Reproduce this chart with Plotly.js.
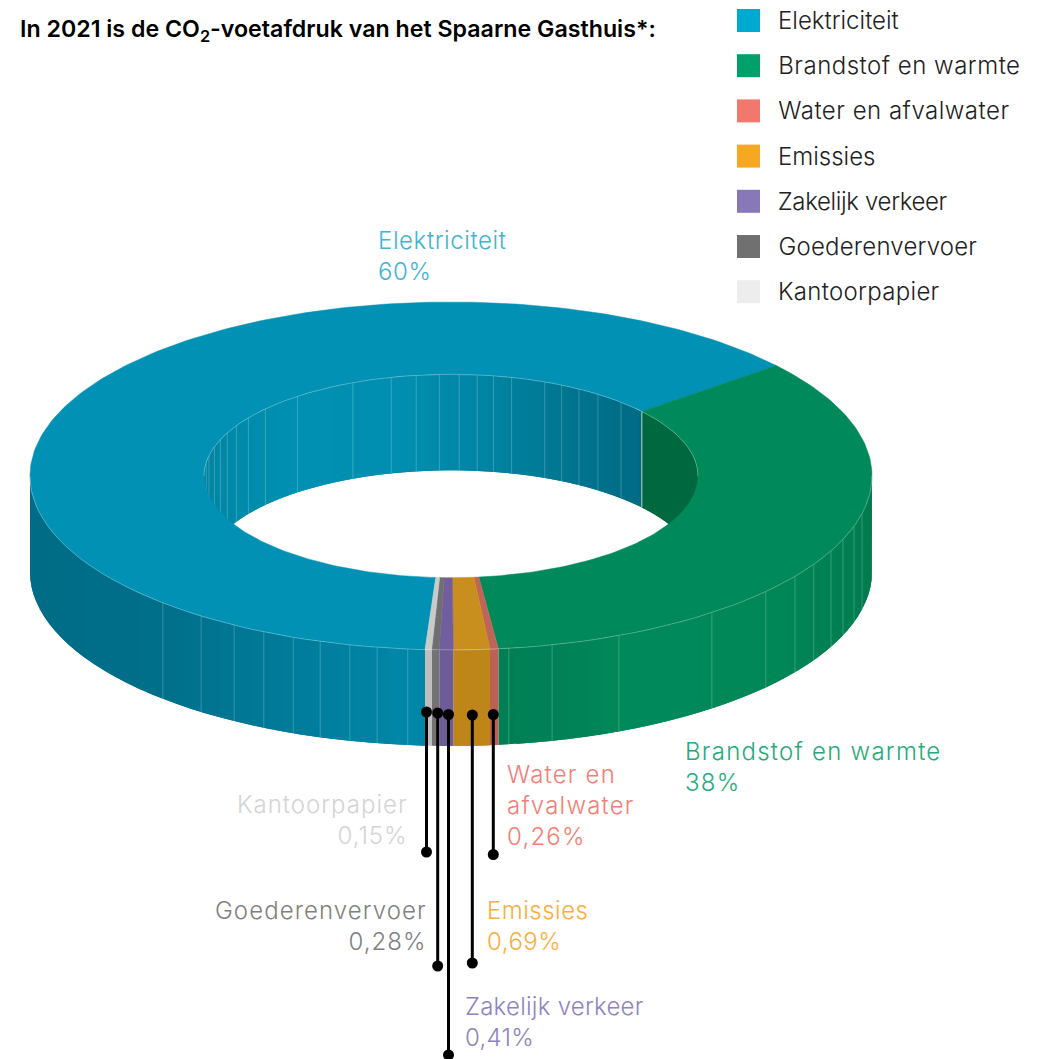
<!DOCTYPE html>
<html><head><meta charset="utf-8">
<script src="https://cdn.plot.ly/plotly-3.0.1.min.js"></script>
<style>html,body{margin:0;padding:0;background:#fff}#chart{width:1042px;height:1059px}</style>
</head><body><div id="chart"></div>
<script>
// ---- data ----
const categories = ['Elektriciteit','Brandstof en warmte','Water en afvalwater','Emissies','Zakelijk verkeer','Goederenvervoer','Kantoorpapier'];
const printedPercents = ['60%','38%','0,26%','0,69%','0,41%','0,28%','0,15%'];
// share of the ring that each slice occupies as actually drawn (thin slices are enlarged in the original)
const drawnShares = [63.07,34.15,0.32,1.39,0.53,0.29,0.25];
const swatchColors = ['#00A9D0','#00A06A','#F2786E','#F7A823','#8878B8','#707070','#EDEDED'];
const topColors = ['#0091B4','#00895A','#BF6558','#C98F1E','#725E9E','#6F6F6F','#C9CACA'];
const wallColors = ['#0087A8','#00885A','#BC6155','#BE8519','#6E5C96','#737373','#BEBEBE'];
const labelColors = ['#3DB4D4','#27A97B','#F47E75','#F9AE3C','#8E84BE','#808080','#D4D4D4'];
const labelLines = [['Elektriciteit'],['Brandstof en warmte'],['Water en','afvalwater'],['Emissies'],['Zakelijk verkeer'],['Goederenvervoer'],['Kantoorpapier']];

// ---- layout constants ----
const W=1042,H=1059,cx=451,cy=476,rx=421,ry=174,irx=247,iry=101.7,depth=96,startPhi=356.46;
const outerSeams=[-43.2,-36.4,-31,-26.4,-22,-18.1,-13.9,-10.1,-5.9,7.9,13.9,23.5,38.3,48.4,54.8,59.5,64.5,68.6,73.2,77.5];
const innerSeams=[-82.2,-78.5,-73.3,-69,-64.9,-60.3,-55.1,-48.7,-38.4,-23.4,-14,-8.1,-2.7,1.9,6.1,9.9,14.2,22.3,26.6,31.2,36.5,43.5,50.6];
const labelAnchors=[[377,225,'left'],[684,736,'left'],[506,759,'left'],[486,895,'left'],[464,991,'left'],[428,895,'right'],[409,789,'right']];
const leaders=[[493.3,714.5,854.5],[472.3,715,963],[448.5,714.5,1055],[437.7,713,966],[426.5,712,852]];
const FONT='Inter, Lato, sans-serif';
// letter spacing in px, per category: the original typeface is wider than any installed one
const labelTracking=[0.6,1.25,1.2,0.5,0.25,1.07,1.0];
const legendTracking=[0,0.5,0.5,0,-0.35,0.2,0.3];
{
  const css=document.createElement('style');
  css.textContent=categories.map((c,i)=>
    '.annotation[data-index="'+(2*i)+'"] text{letter-spacing:'+labelTracking[i]+'px}'+
    '.annotation[data-index="'+(2*i+1)+'"] text{letter-spacing:'+legendTracking[i]+'px}').join('');
  document.head.appendChild(css);
}

const rad=d=>d*Math.PI/180;
const ox=p=>cx+rx*Math.sin(rad(p)), oy=p=>cy+ry*Math.cos(rad(p));
const ix=p=>cx+irx*Math.sin(rad(p)), iy=p=>cy+iry*Math.cos(rad(p));
function hex(c){return [1,3,5].map(i=>parseInt(c.substr(i,2),16));}
function ramp(stops,t){
  if(t<=stops[0][0])return stops[0][1];
  for(let i=1;i<stops.length;i++){
    if(t<=stops[i][0]){
      const a=hex(stops[i-1][1]),b=hex(stops[i][1]),k=(t-stops[i-1][0])/(stops[i][0]-stops[i-1][0]);
      return 'rgb('+a.map((v,j)=>Math.round(v+(b[j]-v)*k)).join(',')+')';
    }
  }
  return stops[stops.length-1][1];
}
const outerBlue=[[-90,'#006B85'],[-43,'#006F8A'],[-20,'#007D9C'],[-4,'#0088A8']];
const outerGreen=[[6,'#007F54'],[14,'#008056'],[24,'#00895A'],[48,'#008859'],[60,'#008254'],[90,'#00794D']];
const innerBlue=[[-90,'#007F9D'],[-60,'#008AAA'],[-40,'#0090B2'],[-15,'#008FB1'],[3,'#0087A7'],[16,'#007E9B'],[30,'#00748F'],[51,'#006A84']];
const innerGreen=[[50,'#00683F'],[90,'#00683F']];

const traces=[];
function poly(xs,ys,color,lw){
  traces.push({type:'scatter',mode:'lines',x:xs,y:ys,fill:'toself',fillcolor:color,
    line:{color:color,width:lw||0},hoverinfo:'skip',showlegend:false});
}
function stroke(xs,ys,color,w){
  traces.push({type:'scatter',mode:'lines',x:xs,y:ys,line:{color:color,width:w},hoverinfo:'skip',showlegend:false});
}
function steps(a,b,step){const n=Math.max(1,Math.ceil((b-a)/step));return Array.from({length:n+1},(_,k)=>a+(b-a)*k/n);}
// a band of the wall: each strip runs on under the next one, so no gap can open between them
function band(fx,fy,lo,hi,colorAt){
  const st=steps(lo,hi,2.5);
  for(let k=0;k<st.length-1;k++){
    const run=st.slice(k,Math.min(k+3,st.length));
    const xs=run.map(fx),ys=run.map(fy);
    const bx=xs.slice().reverse(),by=ys.slice().reverse().map(v=>v+depth);
    poly(xs.concat(bx),ys.concat(by),colorAt((st[k]+st[k+1])/2));
  }
}
// slice extents
const total=drawnShares.reduce((a,b)=>a+b,0);
const slices=[];let cur=startPhi;
drawnShares.forEach((s,i)=>{const next=cur-s*360/total;slices.push({i,a:next,b:cur});cur=next;});

// inner wall (upper half of the hole)
slices.slice(0,2).forEach(sl=>{
  const lo=Math.max(sl.a,90),hi=Math.min(sl.b,270);
  if(hi<=lo)return;
  band(ix,iy,lo,hi,p=>ramp(sl.i===0?innerBlue:innerGreen,180-p));
});
innerSeams.forEach(psi=>{const p=180-psi;stroke([ix(p),ix(p)],[iy(p),iy(p)+depth],'rgba(255,255,255,0.28)',0.8);});

// outer wall (lower half)
slices.forEach(sl=>{
  const ranges=(sl.b>180&&sl.a<180)?[[sl.a,90],[270,sl.b]]:[[sl.a,sl.b]];
  ranges.forEach(r=>{
    let lo=r[0],hi=r[1];
    if(lo>=180){lo-=360;hi-=360;}
    lo=Math.max(lo,-90);hi=Math.min(hi,90);
    if(hi<=lo)return;
    band(ox,oy,lo,hi,m=>sl.i===0?ramp(outerBlue,m):sl.i===1?ramp(outerGreen,m):wallColors[sl.i]);
  });
});
outerSeams.forEach(p=>stroke([ox(p),ox(p)],[oy(p),oy(p)+depth],'rgba(255,255,255,0.28)',0.8));

// top surface
slices.forEach(sl=>{
  const st=steps(sl.a,sl.b,1);
  const xs=st.map(ox).concat(st.slice().reverse().map(ix));
  const ys=st.map(oy).concat(st.slice().reverse().map(iy));
  xs.push(xs[0]);ys.push(ys[0]);
  poly(xs,ys,topColors[sl.i],0.5);
});
// light rims
{
  const lower=steps(-90,90,2),upper=steps(90,270,2);
  stroke(lower.map(ox),lower.map(oy),'rgba(255,255,255,0.4)',0.7);
  stroke(upper.map(ix),upper.map(iy),'rgba(255,255,255,0.4)',0.7);
  const g=slices[0].a;
  stroke([ix(g),ix(g)],[iy(g),iy(g)+depth],'rgba(255,255,255,0.5)',1);
}
// leaders
leaders.forEach(l=>{
  traces.push({type:'scatter',mode:'lines+markers',x:[l[0],l[0]],y:[l[1],l[2]],
    line:{color:'#000',width:3},marker:{color:'#000',size:11},hoverinfo:'skip',showlegend:false,cliponaxis:false});
});

// annotations
const annotations=[],shapes=[];
const SZ=24;
categories.forEach((c,i)=>{
  const an=labelAnchors[i];
  annotations.push({xref:'x',yref:'y',x:an[0],y:an[1],xanchor:an[2],yanchor:'top',align:an[2],showarrow:false,borderpad:0,
    text:labelLines[i].concat([printedPercents[i]]).join('<br>'),font:{family:FONT,size:SZ,color:labelColors[i],weight:300}});
  const top=9+i*45.2;
  shapes.push({type:'rect',xref:'x',yref:'y',x0:737,x1:760,y0:top,y1:top+23,fillcolor:swatchColors[i],line:{width:0}});
  // single-line text is centred in a box measured without tracking, so half the tracked width goes back on x
  annotations.push({xref:'x',yref:'y',x:777+legendTracking[i]*c.length/2,y:top+11.5,xanchor:'left',yanchor:'middle',showarrow:false,borderpad:0,
    text:c,font:{family:FONT,size:SZ,color:'#222',weight:300}});
});

Plotly.newPlot('chart',traces,{
  width:W,height:H,margin:{l:0,r:0,t:0,b:0},paper_bgcolor:'#fff',plot_bgcolor:'#fff',showlegend:false,
  title:{text:'In 2021 is de CO<sub>2</sub>-voetafdruk van het Spaarne Gasthuis*:',x:20/W,xanchor:'left',xref:'paper',y:1-29/H,yanchor:'middle',yref:'paper',
    font:{family:FONT,size:23.2,color:'#000',weight:600}},
  xaxis:{range:[0,W],visible:false,fixedrange:true},
  yaxis:{range:[H,0],visible:false,fixedrange:true},
  annotations,shapes
},{displayModeBar:false,staticPlot:true});
</script></body></html>
